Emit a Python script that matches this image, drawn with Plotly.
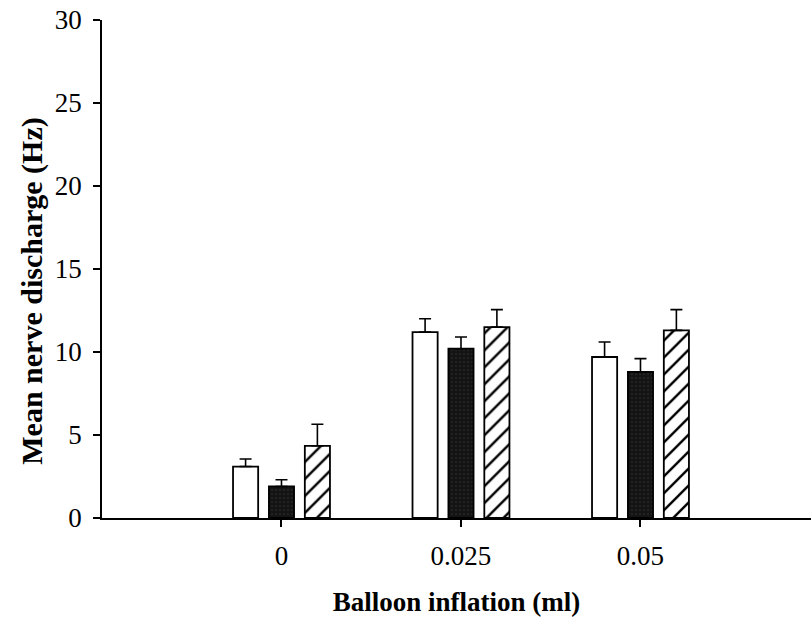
import plotly.graph_objects as go

categories = ["0", "0.025", "0.05"]
white_vals = [3.1, 11.2, 9.7]
white_err = [0.45, 0.8, 0.9]
dark_vals = [1.9, 10.2, 8.8]
dark_err = [0.4, 0.7, 0.8]
hatch_vals = [4.35, 11.5, 11.3]
hatch_err = [1.3, 1.05, 1.25]

FONT = "Liberation Serif, Times New Roman, serif"

def err(a):
    return dict(type="data", array=a, arrayminus=[0]*len(a), symmetric=False,
                color="black", thickness=1.6, width=6)

fig = go.Figure()
fig.add_trace(go.Bar(x=categories, y=white_vals, error_y=err(white_err),
                     marker=dict(color="white", line=dict(color="black", width=1.8))))
fig.add_trace(go.Bar(x=categories, y=dark_vals, error_y=err(dark_err),
                     marker=dict(color="#141414", line=dict(color="black", width=1.8),
                                 pattern=dict(shape=".", fgcolor="#4a4a4a", bgcolor="#141414",
                                              size=4, solidity=0.15))))
fig.add_trace(go.Bar(x=categories, y=hatch_vals, error_y=err(hatch_err),
                     marker=dict(color="white", line=dict(color="black", width=1.8),
                                 pattern=dict(shape="/", fgcolor="black", bgcolor="white",
                                              fgopacity=1, size=12, solidity=0.2))))

fig.update_layout(
    width=811, height=619,
    margin=dict(l=102, r=0, t=20, b=101),
    paper_bgcolor="white", plot_bgcolor="white",
    showlegend=False,
    barmode="group", bargap=0.4, bargroupgap=0.3,
    font=dict(family=FONT, color="black", size=27),
    xaxis=dict(type="category", range=[-1, 2.95], showline=True, linecolor="black",
               linewidth=1.6, ticks="outside", ticklen=7, tickcolor="black",
               tickwidth=1.6, showgrid=False, zeroline=False,
               tickfont=dict(size=27, family=FONT),
               ticklabelstandoff=6,
               title=dict(text="<b>Balloon inflation (ml)</b>", standoff=22,
                          font=dict(size=27, family=FONT))),
    yaxis=dict(range=[0, 30], tickvals=[0, 5, 10, 15, 20, 25, 30],
               showline=True, linecolor="black", linewidth=1.6,
               ticks="outside", ticklen=7, tickcolor="black", tickwidth=1.6,
               showgrid=False, zeroline=False, ticklabelstandoff=6,
               tickfont=dict(size=27, family=FONT)),
    annotations=[dict(text="<b>Mean nerve discharge (Hz)</b>", textangle=-90,
                      xref="paper", yref="paper", x=-0.099, y=0.456,
                      xanchor="center", yanchor="middle", showarrow=False,
                      font=dict(size=30, family=FONT, color="black"))],
)

fig.write_html("out.html")
